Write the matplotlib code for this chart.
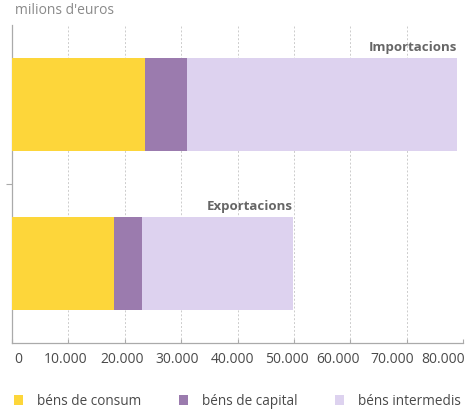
import matplotlib
matplotlib.use("Agg")
import matplotlib.pyplot as plt
from matplotlib.patches import Patch

categories = ["Exportacions", "Importacions"]
series_names = ["béns de consum", "béns de capital", "béns intermedis"]
consum = [18100, 23600]
capital = [4950, 7400]
intermedis = [26800, 47900]
xticks = [0, 10000, 20000, 30000, 40000, 50000, 60000, 70000, 80000]
xtick_labels = ["0", "10.000", "20.000", "30.000", "40.000", "50.000", "60.000", "70.000", "80.000"]

colors = ["#FDD63A", "#9B7BAE", "#DDD2EF"]
font = "Open Sans"

fig = plt.figure(figsize=(4.74, 4.15), dpi=100)
ax = fig.add_axes([12/474, 1-343/415, 451/474, (343-25)/415])

ypos = [0, 1]
left = [0, 0]
for vals, c, name in zip([consum, capital, intermedis], colors, series_names):
    ax.barh(ypos, vals, left=left, height=0.58, color=c, label=name, zorder=3, linewidth=0)
    left = [l + v for l, v in zip(left, vals)]

for y, total, cat in zip(ypos, left, categories):
    ax.text(total - 2, y + 0.29 + 0.03, cat, ha="right", va="bottom", fontsize=9.5,
            fontweight="bold", color="#666666", family=font)

ax.set_xlim(0, 80000)
ax.set_ylim(-0.5, 1.5)
ax.set_xticks(xticks)
ax.set_xticklabels([])
# tick labels drawn as annotations so they can be nudged (pixels) like the reference's row
label_nudge_px = [6, -3, -3, -4, -5, -7, -12, -14, -20]
for xt, lab, dx in zip(xticks, xtick_labels, label_nudge_px):
    ax.annotate(lab, xy=(xt, 0), xycoords=ax.get_xaxis_transform(),
                xytext=(dx * 0.72, -16 * 0.72), textcoords="offset points",
                ha="center", va="center", family=font, fontsize=10, color="#4a4a4a",
                annotation_clip=False)
ax.set_yticks([0.5])
ax.set_yticklabels([""])
ax.tick_params(axis="y", length=4, color="#aaaaaa", direction="out")
ax.tick_params(axis="x", length=3, color="#aaaaaa", direction="in")
ax.grid(axis="x", color="#cccccc", linestyle=(0, (2, 2)), linewidth=0.7, zorder=0)
for s in ["top", "right"]:
    ax.spines[s].set_visible(False)
for s in ["left", "bottom"]:
    ax.spines[s].set_color("#aaaaaa")
    ax.spines[s].set_linewidth(0.9)

fig.text(15/474, 1-11/415, "milions d'euros", ha="left", va="center", fontsize=10,
         color="#8a8a8a", family=font)

handles = [Patch(facecolor=c, edgecolor="none") for c in colors]
fig.legend(handles, series_names, loc="center left", bbox_to_anchor=(3/474, 1-401/415),
           ncol=3, frameon=False, prop={"family": font, "size": 9.8},
           handlelength=0.65, handleheight=0.75, handletextpad=1.05, columnspacing=2.75,
           labelcolor="#4a4a4a", borderpad=0.3)

fig.savefig("out.png", dpi=100)
